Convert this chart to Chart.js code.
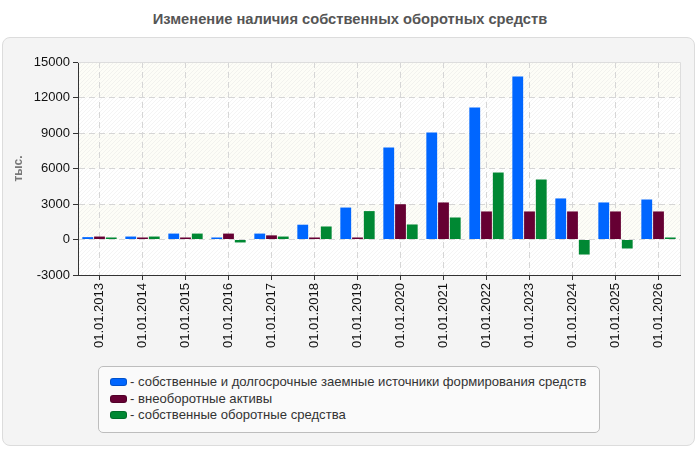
<!DOCTYPE html>
<html>
<head>
<meta charset="utf-8">
<script src="https://cdn.jsdelivr.net/npm/chart.js@4"></script>
<style>
  html, body { margin: 0; padding: 0; background: #fff; }
  body { width: 700px; height: 450px; position: relative; overflow: hidden; font-family: "Liberation Sans", Arial, sans-serif; }
  #title { position: absolute; left: 0; top: 11px; width: 700px; text-align: center; font-size: 14.7px; font-weight: bold; color: #555; }
  #panel { position: absolute; left: 2px; top: 37px; width: 691px; height: 407px; background: #f4f4f4; border: 1px solid #dcdcdc; border-radius: 8px; }
  #wrap { position: absolute; left: 0; top: 0; width: 700px; height: 450px; }
  #legend { position: absolute; left: 98px; top: 366px; width: 502px; height: 67px; border: 1px solid #bdbdbd; border-radius: 5px; background: #fafafa; box-sizing: border-box; padding: 7px 0 0 11px; }
  .item { height: 16.5px; line-height: 16.5px; font-size: 13.1px; color: #333; white-space: nowrap; }
  .sw { display: inline-block; width: 17px; height: 8px; border-radius: 3px; margin-right: 3px; vertical-align: 0px; border: 1px solid rgba(0,0,0,0.2); box-sizing: border-box; }
</style>
</head>
<body>
<div id="title">Изменение наличия собственных оборотных средств</div>
<div id="panel"></div>
<div id="wrap"><canvas id="chart" width="700" height="450"></canvas></div>
<div id="legend"></div>
<script>
// categories and series
const dates = ['01.01.2013', '01.01.2014', '01.01.2015', '01.01.2016', '01.01.2017', '01.01.2018', '01.01.2019',
               '01.01.2020', '01.01.2021', '01.01.2022', '01.01.2023', '01.01.2024', '01.01.2025', '01.01.2026'];
const sourcesValues = [200, 250, 500, 170, 500, 1250, 2700, 7780, 9050, 11160, 13780, 3470, 3130, 3380];
const fixedAssetsValues = [250, 170, 170, 500, 350, 170, 170, 2980, 3130, 2370, 2370, 2370, 2370, 2370];
const workingCapitalValues = [170, 250, 500, -250, 250, 1100, 2400, 1270, 1860, 5660, 5070, -1270, -760, 170];
const seriesNames = ['собственные и долгосрочные заемные источники формирования средств', 'внеоборотные активы', 'собственные оборотные средства'];
const seriesColors = ['#0066ff', '#660033', '#008833'];
const yTicks = [-3000, 0, 3000, 6000, 9000, 12000, 15000];

// striped plot background
const plotBackground = {
  id: 'plotBackground',
  beforeDraw(chart) {
    const { ctx, chartArea: a, scales: { y } } = chart;
    ctx.save();
    ctx.fillStyle = '#ffffff';
    ctx.fillRect(a.left, a.top, a.right - a.left, a.bottom - a.top);
    for (let i = 0; i < yTicks.length - 1; i++) {
      if (i % 2 === 1) continue;
      const top = y.getPixelForValue(yTicks[yTicks.length - 1 - i]);
      const bot = y.getPixelForValue(yTicks[yTicks.length - 2 - i]);
      ctx.fillStyle = '#fdfdf7';
      ctx.fillRect(a.left, top, a.right - a.left, bot - top);
    }
    ctx.beginPath();
    ctx.rect(a.left, a.top, a.right - a.left, a.bottom - a.top);
    ctx.clip();
    ctx.strokeStyle = 'rgba(210,210,210,0.25)';
    ctx.lineWidth = 1;
    const h = a.bottom - a.top;
    for (let x = a.left - h; x < a.right; x += 4) {
      ctx.beginPath();
      ctx.moveTo(x, a.bottom);
      ctx.lineTo(x + h, a.top);
      ctx.stroke();
    }
    ctx.restore();
  },
  afterDraw(chart) {
    const { ctx, chartArea: a } = chart;
    ctx.save();
    ctx.strokeStyle = '#dddddd';
    ctx.lineWidth = 1;
    ctx.beginPath();
    ctx.moveTo(a.left, a.top + 0.5);
    ctx.lineTo(a.right + 0.5, a.top + 0.5);
    ctx.lineTo(a.right + 0.5, a.bottom);
    ctx.stroke();
    ctx.restore();
  }
};

const tickFont = { family: 'Liberation Sans', size: 13 };

const chart = new Chart(document.getElementById('chart'), {
  type: 'bar',
  data: {
    labels: dates,
    datasets: [
      { label: seriesNames[0], data: sourcesValues, backgroundColor: seriesColors[0] },
      { label: seriesNames[1], data: fixedAssetsValues, backgroundColor: seriesColors[1] },
      { label: seriesNames[2], data: workingCapitalValues, backgroundColor: seriesColors[2] }
    ]
  },
  options: {
    responsive: false,
    animation: false,
    categoryPercentage: 0.82,
    barPercentage: 0.92,
    layout: { padding: { left: 11, right: 20, top: 62, bottom: 100 } },
    plugins: {
      legend: { display: false },
      tooltip: { enabled: false }
    },
    scales: {
      x: {
        grid: { offset: false, color: '#d6d6d6', tickColor: '#333', tickBorderDash: [], tickLength: 5 },
        border: { display: true, color: '#333', width: 1, dash: [6, 4] },
        ticks: { color: '#111', font: tickFont, minRotation: 90, maxRotation: 90, padding: 3 },
        afterFit(s) { s.height = 75; }
      },
      y: {
        min: -3000,
        max: 15000,
        afterBuildTicks(s) { s.ticks = yTicks.map(v => ({ value: v })); },
        grid: { color: '#d6d6d6', tickColor: '#333', tickBorderDash: [], tickLength: 5 },
        border: { display: true, color: '#333', width: 1, dash: [6, 4] },
        ticks: { color: '#111', font: tickFont, padding: 3, callback: v => String(v) },
        title: { display: true, text: 'тыс.', color: '#777', font: { family: 'Liberation Sans', size: 12, weight: 'bold' }, padding: 0 },
        afterFit(s) { s.width = 67; }
      }
    }
  },
  plugins: [plotBackground]
});

// legend box
const legend = document.getElementById('legend');
seriesNames.forEach((name, i) => {
  const row = document.createElement('div');
  row.className = 'item';
  row.innerHTML = '<span class="sw" style="background:' + seriesColors[i] + '"></span>- ' + name;
  legend.appendChild(row);
});
</script>
</body>
</html>
